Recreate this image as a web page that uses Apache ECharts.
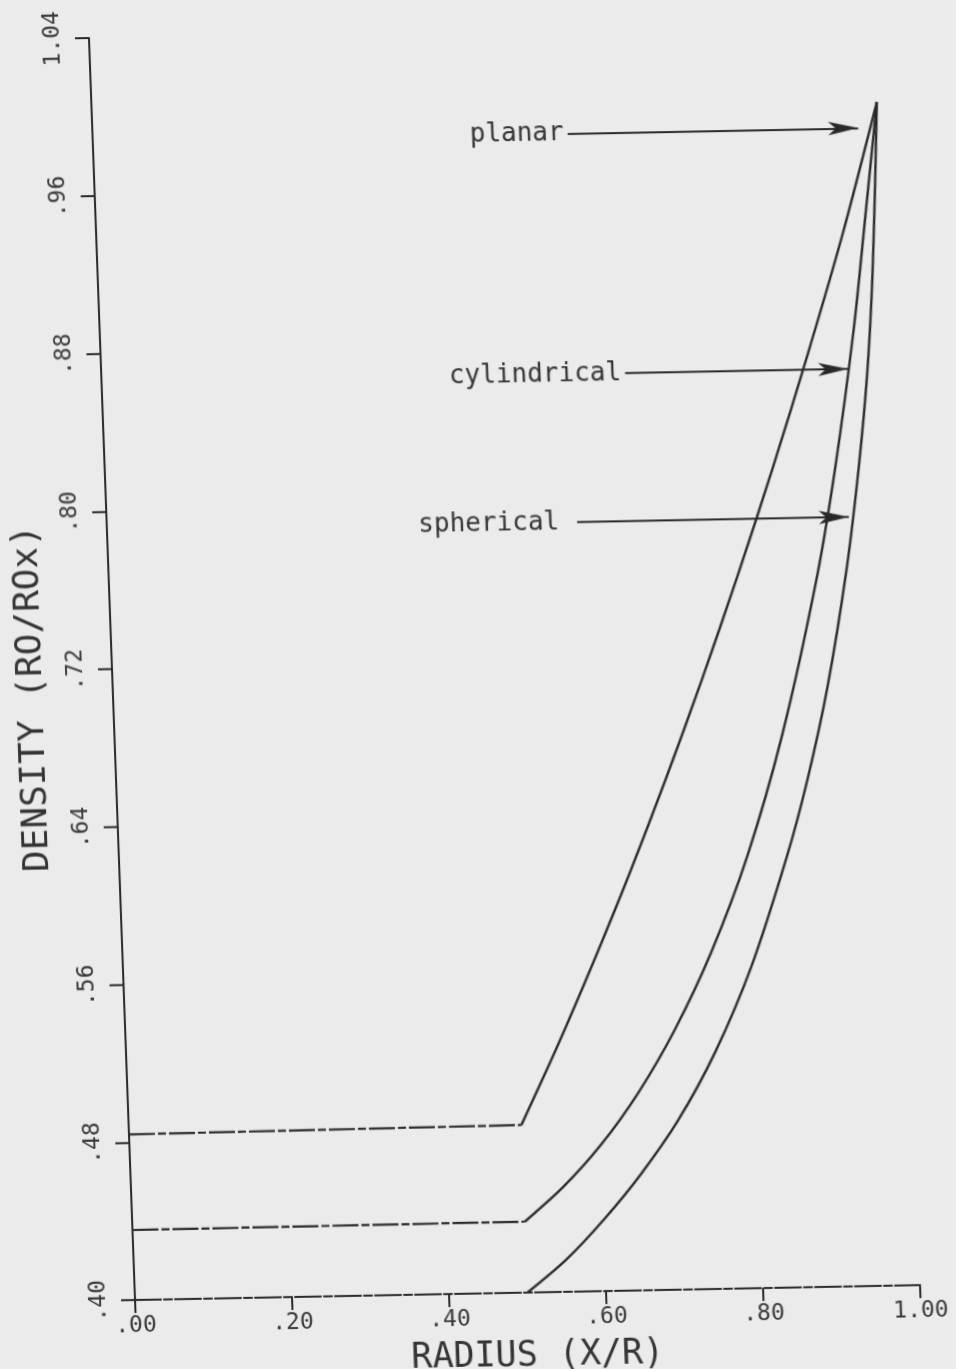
<!DOCTYPE html>
<html>
<head>
<meta charset="utf-8">
<script src="https://cdn.jsdelivr.net/npm/echarts@6/dist/echarts.min.js"></script>
<style>
  html, body { margin: 0; padding: 0; background: #ebebeb; overflow: hidden; height: 1369px; }
  /* the plotted sheet sits slightly askew on the page */
  #chart {
    width: 956px; height: 1400px;
    transform-origin: 135px 1300px;
    transform: matrix(1, -0.019, 0.0365, 1, 0, 0);
  }
</style>
</head>
<body>
<div id="chart"></div>
<script>
// Tick labels
const xTickLabels = ['.00', '.20', '.40', '.60', '.80', '1.00'];
const yTickLabels = ['.40', '.48', '.56', '.64', '.72', '.80', '.88', '.96', '1.04'];

// Density profiles, [radius X/R, density RO/ROx]
const planar = [
  [0.00, 0.484], [0.50, 0.485], [0.55, 0.525], [0.60, 0.5675], [0.65, 0.612],
  [0.70, 0.659], [0.75, 0.7085], [0.80, 0.7605], [0.85, 0.815], [0.90, 0.8725],
  [0.95, 0.933], [1.00, 1.000]
];
const cylindrical = [
  [0.00, 0.4355], [0.50, 0.436], [0.55, 0.453], [0.60, 0.474], [0.65, 0.500],
  [0.70, 0.532], [0.75, 0.571], [0.80, 0.619], [0.85, 0.680], [0.90, 0.757],
  [0.93, 0.815], [0.96, 0.885], [0.98, 0.942], [1.00, 1.000]
];
const spherical = [
  [0.00, 0.400], [0.50, 0.400], [0.55, 0.416], [0.60, 0.436], [0.65, 0.459],
  [0.70, 0.486], [0.75, 0.520], [0.80, 0.563], [0.85, 0.618], [0.88, 0.657],
  [0.91, 0.704], [0.94, 0.764], [0.96, 0.815], [0.975, 0.862], [0.985, 0.905],
  [0.993, 0.952], [1.00, 1.000]
];

// Callout arrows: label, density level, radius of tail and head
const calloutNames = ['planar', 'cylindrical', 'spherical'];
const calloutLevels = [0.987, 0.865, 0.790];
const calloutTails = [0.605, 0.667, 0.599];
const calloutHeads = [0.975, 0.951, 0.945];

const INK = '#282828';
const FONT = 'DejaVu Sans Mono';
const PLOT_DASH = [26, 3, 8, 3];

function curveSeries(name, data) {
  return [
    {
      name: name + '-flat', type: 'line', data: data.slice(0, 2),
      symbol: 'none', silent: true,
      lineStyle: { color: INK, width: 2.2, type: PLOT_DASH }
    },
    {
      name: name, type: 'line', data: data.slice(1),
      symbol: 'none', silent: true, smooth: 0.3,
      lineStyle: { color: INK, width: 2.4 }
    }
  ];
}

const callouts = calloutNames.map((n, i) => [
  {
    coord: [calloutTails[i], calloutLevels[i]],
    label: {
      show: true, position: 'start', formatter: n,
      distance: n === 'spherical' ? 18 : 4,
      color: '#333', fontFamily: FONT, fontSize: 26
    }
  },
  { coord: [calloutHeads[i], calloutLevels[i]] }
]);

const series = [].concat(
  curveSeries('planar', planar),
  curveSeries('cylindrical', cylindrical),
  curveSeries('spherical', spherical)
);
series[1].markLine = {
  silent: true, animation: false,
  symbol: ['none', 'arrow'], symbolSize: [10, 30],
  lineStyle: { color: INK, width: 2, type: 'solid' },
  data: callouts
};

const chart = echarts.init(document.getElementById('chart'), null, { renderer: 'canvas' });
chart.setOption({
  backgroundColor: 'transparent',
  animation: false,
  grid: {
    left: 135, right: 36, top: 38, bottom: 100,
    containLabel: false, outerBoundsMode: 'none'
  },
  xAxis: {
    type: 'value', min: 0, max: 1.0, interval: 0.2,
    name: 'RADIUS (X/R)', nameLocation: 'middle', nameGap: 46,
    nameTextStyle: { color: '#333', fontFamily: FONT, fontSize: 35, padding: [0, 0, 0, 16] },
    axisLine: { show: true, onZero: false, lineStyle: { color: INK, width: 2, type: PLOT_DASH } },
    axisTick: { show: true, inside: false, length: 13, lineStyle: { color: INK, width: 2 } },
    axisLabel: {
      color: '#383838', fontFamily: FONT, fontSize: 23, margin: 15,
      formatter: (v, i) => xTickLabels[i]
    },
    splitLine: { show: false }
  },
  yAxis: {
    type: 'value', min: 0.40, max: 1.04, interval: 0.08,
    name: 'DENSITY (RO/ROx)', nameLocation: 'middle', nameGap: 62,
    nameTextStyle: { color: '#333', fontFamily: FONT, fontSize: 36, padding: [0, 56, 0, 0] },
    axisLine: { show: true, onZero: false, lineStyle: { color: INK, width: 2 } },
    axisTick: { show: true, inside: false, length: 14, lineStyle: { color: INK, width: 2 } },
    axisLabel: {
      rotate: 90, color: '#383838', fontFamily: FONT, fontSize: 23, margin: 24,
      formatter: (v, i) => yTickLabels[i]
    },
    splitLine: { show: false }
  },
  series: series
});
</script>
</body>
</html>
